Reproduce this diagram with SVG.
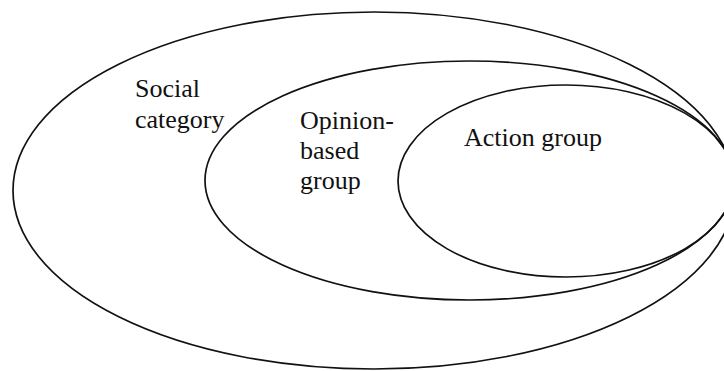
<svg xmlns="http://www.w3.org/2000/svg" width="724" height="371" viewBox="0 0 724 371">
  <style>
    .ring { fill: none; stroke: #111; stroke-width: 1.7; }
    .label { font-family: "Liberation Serif", "Times New Roman", serif; font-size: 26px; fill: #111; }
  </style>
  <rect width="724" height="371" fill="#fff"/>

  <!-- Outermost set: the whole social category -->
  <g id="social-category">
    <ellipse class="ring" cx="374" cy="190.5" rx="361" ry="178.5"/>
    <text class="label" x="135" y="97">Social</text>
    <text class="label" x="135" y="128">category</text>
  </g>

  <!-- Middle set: opinion-based group -->
  <g id="opinion-based-group">
    <ellipse class="ring" cx="469.5" cy="180.5" rx="264.5" ry="119.5"/>
    <text class="label" x="300" y="129">Opinion-</text>
    <text class="label" x="300" y="159">based</text>
    <text class="label" x="300" y="189">group</text>
  </g>

  <!-- Innermost set: action group -->
  <g id="action-group">
    <ellipse class="ring" cx="566" cy="181" rx="168" ry="96"/>
    <text class="label" x="464" y="146">Action group</text>
  </g>
</svg>
